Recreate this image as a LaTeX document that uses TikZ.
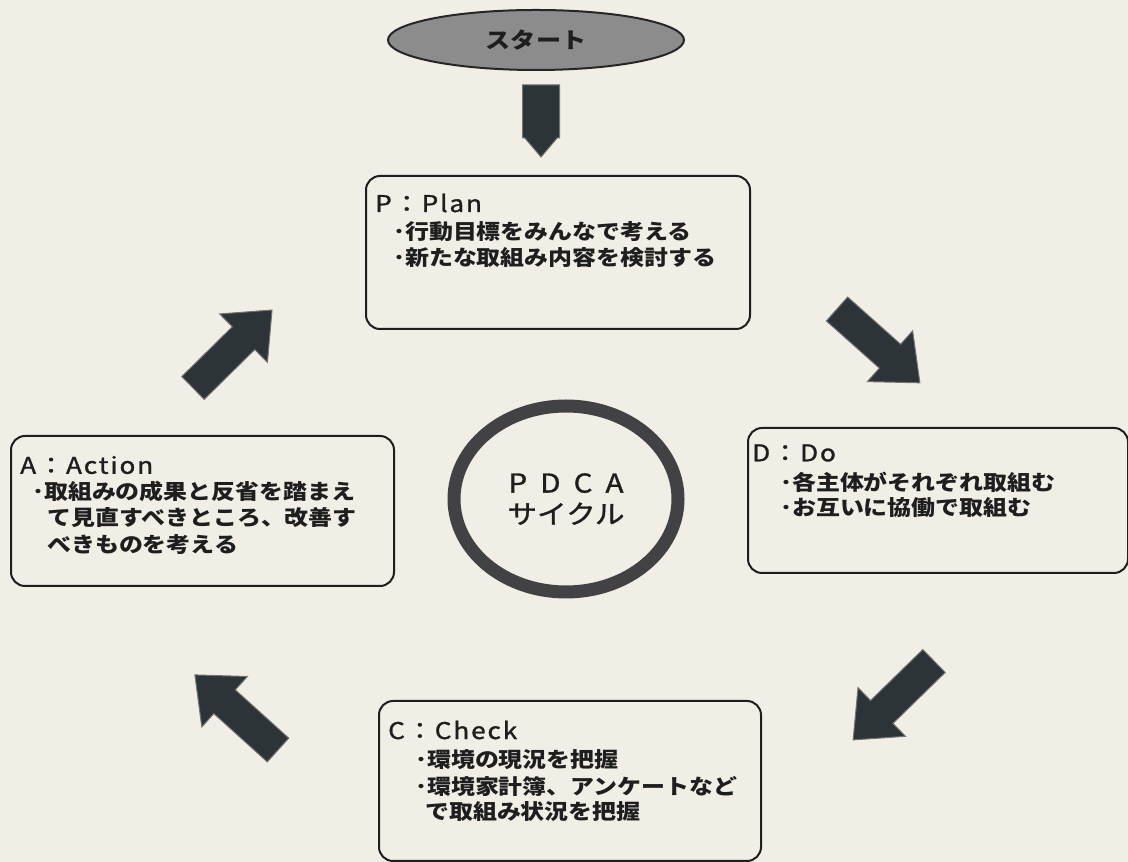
\documentclass[tikz,border=0pt]{standalone}
\usepackage{fontspec}
\usetikzlibrary{shapes.geometric}
\setmainfont{Noto Sans CJK JP}[FakeStretch=1.14]
\newfontfamily\headfont{Noto Sans CJK JP}[FakeStretch=1.14,LetterSpace=8,FakeBold=1.2]
\newfontfamily\cycfont{Noto Sans CJK JP}[FakeStretch=1.14,FakeBold=1.2]
\definecolor{bg}{RGB}{240,238,229}
\definecolor{ink}{RGB}{30,30,30}
\definecolor{arrowfill}{RGB}{44,52,55}
\definecolor{ringcol}{RGB}{66,66,68}
\definecolor{startgray}{RGB}{140,140,140}
\newcommand\blockarrow[6]{% name, tail, angle, length, shaft half width, head length
  \coordinate (#1) at #2;
  \begin{scope}[shift={#2}, rotate=#3]
    \fill[arrowfill, draw=black!55, line width=1pt]
      (0,-#5) -- (#4-#6,-#5) -- (#4-#6,-#6*0.85) -- (#4,0) -- (#4-#6,#6*0.85) -- (#4-#6,#5) -- (0,#5) -- cycle;
  \end{scope}}
\begin{document}
\begin{tikzpicture}[x=1pt,y=1pt,
  box/.style={draw=ink, line width=2pt, rounded corners=14pt, fill=bg, inner sep=0pt, anchor=north west},
  body/.style={anchor=west, inner sep=0pt, font=\bfseries\fontsize{21}{27}\selectfont, text=ink},
  head/.style={anchor=west, inner sep=0pt, font=\headfont\fontsize{23}{27}\selectfont, text=ink}]
\fill[bg] (0,0) rectangle (1128,862);
\useasboundingbox (0,0) rectangle (1128,862);

% start
\node[ellipse, draw=black!85, line width=2pt, fill=startgray, minimum width=296pt, minimum height=60pt,
      inner sep=0pt, font=\bfseries\fontsize{22}{26}\selectfont, text=ink] (start) at (536,822) {スタート};

% boxes
\node[box, minimum width=384pt, minimum height=153pt] (P) at (365,687) {};
\node[box, minimum width=380pt, minimum height=145pt] (D) at (747,435) {};
\node[box, minimum width=383pt, minimum height=150pt] (A) at (10,427) {};
\node[box, minimum width=382pt, minimum height=160pt] (C) at (378,162) {};

% P text
\node[head] (p0) at (375,659) {P：Plan};
\node[body] (p1) at (393,630) {･行動目標をみんなで考える};
\node[body] (p2) at (393,604) {･新たな取組み内容を検討する};
% D text
\node[head] (d0) at (752,409) {D：Do};
\node[body] (d1) at (780,380) {･各主体がそれぞれ取組む};
\node[body] (d2) at (780,354) {･お互いに協働で取組む};
% A text
\node[head] (a0) at (20,397) {A：Action};
\node[body] (a1) at (32,370) {･取組みの成果と反省を踏まえ};
\node[body] (a2) at (47,344) {て見直すべきところ、改善す};
\node[body] (a3) at (47,317) {べきものを考える};
% C text
\node[head] (c0) at (388,132) {C：Check};
\node[body] (c1) at (415,102) {･環境の現況を把握};
\node[body] (c2) at (415,75) {･環境家計簿、アンケートなど};
\node[body] (c3) at (425,50) {で取組み状況を把握};

% center ring
\node[ellipse, draw=ringcol, line width=13pt, minimum width=224pt, minimum height=186pt,
      inner sep=0pt, align=center, text=ink, font=\cycfont\fontsize{26}{31}\selectfont] (cyc) at (566,363)
      {P\hspace{13pt}D\hspace{13pt}C\hspace{13pt}A\\サイクル};

% arrows
\blockarrow{s0}{(541,777)}{-90}{72}{18.5}{19}
\blockarrow{ap}{(193,474)}{44.6}{111}{16}{40}
\blockarrow{pd}{(837,553)}{-41.7}{111}{16}{40}
\blockarrow{dc}{(934,201)}{224.3}{113}{16}{40}
\blockarrow{ca}{(278,112)}{137.9}{112}{16}{40}
\end{tikzpicture}
\end{document}
